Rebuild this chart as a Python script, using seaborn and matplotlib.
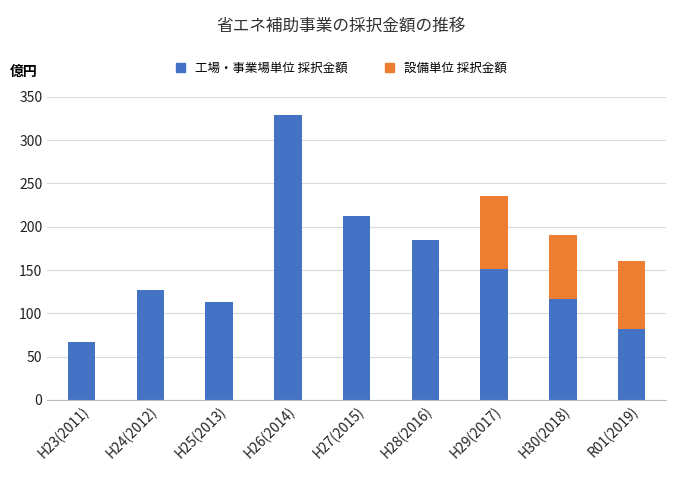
import matplotlib
matplotlib.use("Agg")
import matplotlib.pyplot as plt
import seaborn as sns
import pandas as pd
from matplotlib.patches import Patch

plt.rcParams["font.family"] = "Noto Sans CJK JP"

BLUE = "#4472C4"
ORANGE = "#ED7D31"

years = ["H23(2011)", "H24(2012)", "H25(2013)", "H26(2014)", "H27(2015)",
         "H28(2016)", "H29(2017)", "H30(2018)", "R01(2019)"]
factory = [67, 127, 113, 329, 213, 185, 151, 116, 82]
equipment = [0, 0, 0, 0, 0, 0, 84, 75, 78]

df = pd.DataFrame({"year": years, "factory": factory, "equipment": equipment})
df["total"] = df["factory"] + df["equipment"]

fig = plt.figure(figsize=(6.83, 4.8), dpi=100)
ax = fig.add_axes([0.069, 0.167, 0.906, 0.631])

sns.barplot(data=df, x="year", y="total", color=ORANGE, saturation=1, width=0.4, ax=ax)
sns.barplot(data=df, x="year", y="factory", color=BLUE, saturation=1, width=0.4, ax=ax)

ax.set_ylim(0, 350)
ax.set_yticks(range(0, 351, 50))
ax.yaxis.grid(True, color="#D9D9D9", linewidth=0.8)
ax.set_axisbelow(True)
for s in ["top", "right", "left"]:
    ax.spines[s].set_visible(False)
ax.spines["bottom"].set_color("#BFBFBF")
ax.tick_params(axis="both", length=0, labelsize=10, colors="#222222")
ax.set_xlabel("")
ax.set_ylabel("")
plt.setp(ax.get_xticklabels(), rotation=45, ha="right", rotation_mode="anchor")

fig.text(0.5, 0.945, "省エネ補助事業の採択金額の推移", ha="center", va="center", fontsize=12, color="#333333")
fig.text(0.015, 0.85, "億円", ha="left", va="center", fontsize=10, fontweight="bold")
handles = [Patch(color=BLUE, label="工場・事業場単位 採択金額"),
           Patch(color=ORANGE, label="設備単位 採択金額")]
fig.legend(handles=handles, loc="center", bbox_to_anchor=(0.5, 0.858), ncol=2,
           frameon=False, fontsize=9, handlelength=0.7, handleheight=0.7, columnspacing=3)

fig.savefig("out.png", dpi=100)
